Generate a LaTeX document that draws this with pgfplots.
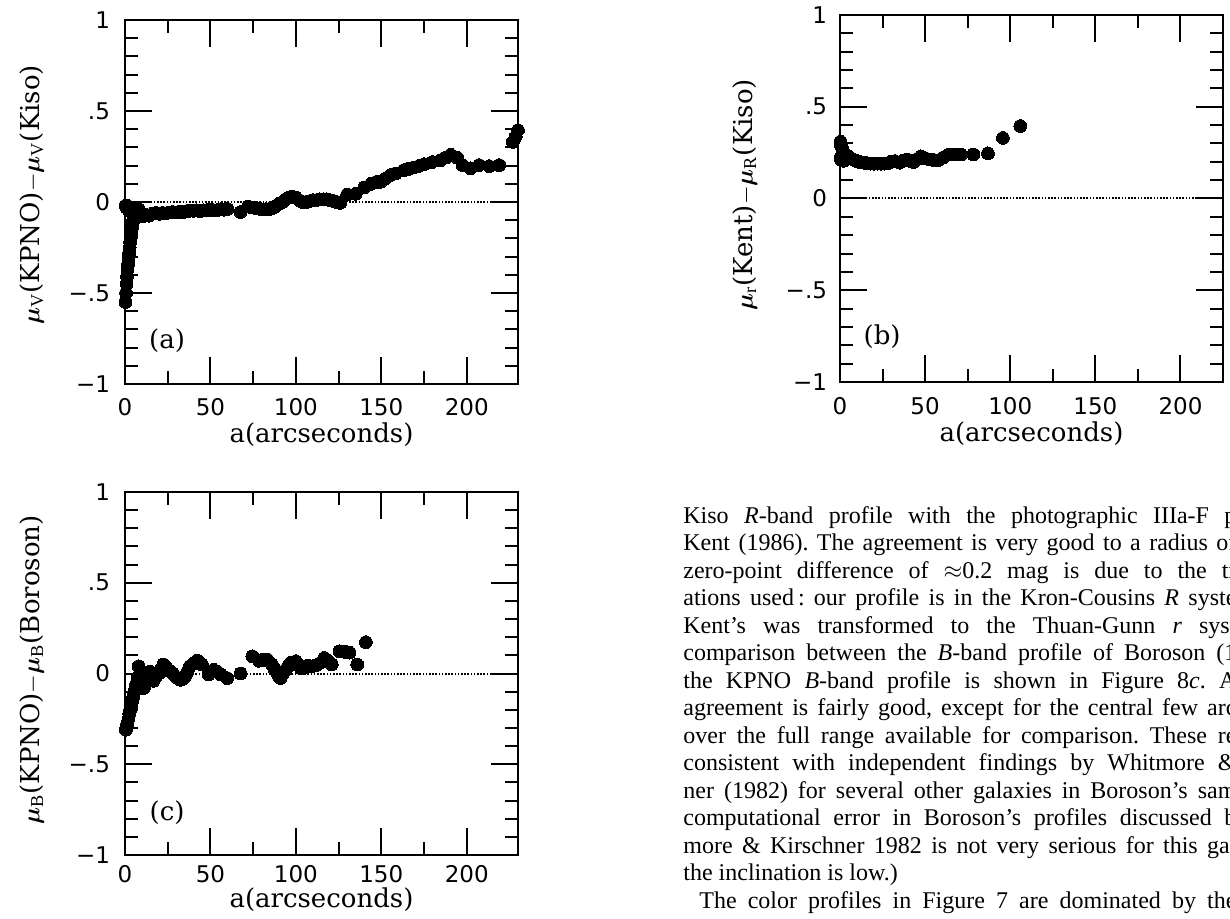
\documentclass[border=0pt]{standalone}
\usepackage{fontspec}
\setmainfont{Liberation Serif}
\newfontfamily\labelfont{DejaVu Serif}
\newfontfamily\tickfont{DejaVu Sans}
\usepackage{bm}
\usepackage{pgfplots}
\pgfplotsset{compat=1.18}

% residual profiles, a in arcsec, difference in mag
\pgfplotstableread{
a v
0.3 -0.55
0.6 -0.50
0.9 -0.45
1.2 -0.41
1.5 -0.37
1.8 -0.34
2.1 -0.31
2.4 -0.28
2.7 -0.25
3.0 -0.22
3.3 -0.19
3.6 -0.17
3.9 -0.15
4.2 -0.13
4.6 -0.11
5.0 -0.09
5.5 -0.08
6.0 -0.07
0.3 -0.02
0.8 -0.03
1.3 -0.02
1.8 -0.04
2.3 -0.03
2.8 -0.05
3.3 -0.03
3.8 -0.05
4.4 -0.04
5.0 -0.05
6.0 -0.03
7.0 -0.05
8.0 -0.04
9.0 -0.06
10 -0.08
12 -0.07
14 -0.075
16 -0.065
18 -0.06
20 -0.065
22 -0.06
24 -0.062
26 -0.058
28 -0.055
30 -0.058
32 -0.052
34 -0.056
36 -0.05
38 -0.048
40 -0.048
42 -0.046
44 -0.05
46 -0.045
48 -0.045
50 -0.042
52 -0.045
54 -0.044
56 -0.04
58 -0.042
60 -0.038
67.6 -0.055
72 -0.025
74 -0.03
76 -0.032
78 -0.036
80 -0.04
82 -0.04
84 -0.04
86 -0.035
88 -0.025
90 -0.01
92 0.0
94 0.015
96 0.025
98 0.03
100 0.025
102 0.01
104 0.0
106 0.0
108 0.005
110 0.01
112 0.01
114 0.015
116 0.015
118 0.015
120 0.01
122 0.005
124 0.0
126 -0.005
130 0.04
135 0.045
140 0.08
144 0.10
147 0.11
149.6 0.111
152.5 0.13
155.4 0.148
158.4 0.157
163.2 0.175
166 0.182
169.1 0.19
172 0.198
175 0.208
179.8 0.22
184.7 0.23
188 0.245
190.6 0.26
194.5 0.243
197.5 0.203
202.3 0.185
207.2 0.203
213.1 0.197
219 0.203
227 0.33
228.7 0.36
230 0.395
}\tabV

\pgfplotstableread{
a v
0.3 0.31
0.6 0.29
1.0 0.28
1.4 0.27
1.8 0.26
2.2 0.25
2.7 0.245
3.2 0.24
3.8 0.235
4.5 0.23
5.3 0.225
6.2 0.22
7.2 0.215
8.3 0.21
9.5 0.205
11 0.20
12.5 0.198
14 0.195
16 0.192
18 0.19
20 0.19
22 0.19
24 0.19
26 0.19
28 0.192
30 0.20
32.3 0.204
35 0.195
37 0.205
39.2 0.213
41 0.205
43.1 0.199
45.5 0.215
47.5 0.23
50 0.22
52.5 0.213
55 0.21
57.8 0.209
61 0.225
64.3 0.24
67.5 0.24
71.2 0.24
78.4 0.24
86.9 0.246
95.7 0.33
105.9 0.395
0.3 0.22
0.6 0.21
1.0 0.215
1.5 0.21
2.0 0.205
3.0 0.21
}\tabR

\pgfplotstableread{
a v
0.5 -0.31
1.0 -0.29
1.5 -0.27
2.0 -0.25
2.5 -0.22
3.0 -0.20
3.5 -0.18
4.0 -0.16
4.5 -0.14
5.0 -0.12
5.5 -0.10
6.0 -0.08
6.5 -0.06
7.0 -0.05
7.5 -0.02
8.0 0.04
9.0 -0.03
10 -0.06
11 -0.08
12 -0.05
12.7 -0.04
13.5 -0.02
14.7 0.01
15.5 -0.02
16.7 -0.04
18 -0.02
19.5 0.0
20.6 0.005
21.5 0.03
22.5 0.05
24 0.035
25.5 0.02
27 0.01
28 0.0
30 -0.02
32.4 -0.035
34 -0.03
35 -0.02
36.5 0.01
38 0.04
40 0.055
42 0.07
43.5 0.065
45 0.05
49 -0.005
52 0.02
54 0.01
56 -0.005
59.8 -0.025
67.6 0.0
74.5 0.095
78.4 0.07
81 0.075
83.3 0.077
86 0.05
87.5 0.025
89 0.004
90 -0.015
91 -0.025
92.5 0.0
94 0.02
95.5 0.04
97 0.06
100 0.068
101.5 0.05
102.9 0.03
105 0.035
107 0.043
109.5 0.04
112 0.047
114.5 0.06
116.7 0.086
119 0.07
121 0.05
125.5 0.123
128.5 0.12
131.4 0.115
135.9 0.05
141 0.173
}\tabB

\pgfplotsset{
  panel/.style={
    scale only axis,
    xmin=0, ymin=-1, ymax=1,
    xtick={0,50,100,150,200}, xticklabels={0,50,100,150,200},
    minor x tick num=1,
    ytick={-1,-0.5,0,0.5,1}, yticklabels={−1,−.5,0,.5,1},
    minor y tick num=4,
    tick align=inside,
    major tick length=13.5pt, minor tick length=6.5pt,
    every tick/.style={black, line width=1pt},
    axis line style={line width=1.2pt},
    ticklabel style={font=\tickfont\fontsize{11.5}{12}\selectfont},
    yticklabel style={xshift=-4pt},
    label style={font=\labelfont\fontsize{13}{15}\selectfont},
    clip mode=global,
  },
  dots/.style={only marks, mark=*, mark size=3.2pt,
    mark options={fill=black, draw=black, line width=0pt}},
  zline/.style={no marks, black, line width=1pt, dash pattern=on 0.8pt off 0.8pt},
}
\tikzset{tag/.style={font=\labelfont\fontsize{13}{15}\selectfont}}

\newcommand{\tline}[2]{\node[anchor=base west, inner sep=0pt] at (341.5pt,{-261.5pt-13.75pt*#1}) {\makebox[276.5pt][s]{#2}};}

\begin{document}
\frenchspacing
\begin{tikzpicture}
\useasboundingbox (0,0) rectangle (615pt,-459.5pt);
\clip (0,0) rectangle (615pt,-459.5pt);

% (a) V band
\begin{axis}[panel, at={(62.5pt,-192pt)}, anchor=south west,
  width=196.5pt, height=182pt, xmax=230,
  xticklabel style={yshift=-3.5pt},
  xlabel={a(arcseconds)},
  xlabel style={at={(axis description cs:0.5,-0.14)}, anchor=center},
  ylabel={$\bm{\mu}_{\mathrm{V}}$(KPNO)$-\bm{\mu}_{\mathrm{V}}$(Kiso)},
  ylabel style={at={(axis description cs:-0.237,0.52)}, anchor=center}]
\addplot[zline] coordinates {(0,0) (230,0)};
\addplot[dots] table[x=a, y=v] {\tabV};
\node[tag] at (axis description cs:0.107,0.118) {(a)};
\end{axis}

% (b) R band
\begin{axis}[panel, at={(420pt,-191pt)}, anchor=south west,
  width=191.5pt, height=183.5pt, xmax=225,
  xticklabel style={yshift=-4pt},
  yticklabel style={xshift=1pt},
  xlabel={a(arcseconds)},
  xlabel style={at={(axis description cs:0.5,-0.14)}, anchor=center},
  ylabel={$\bm{\mu}_{\mathrm{r}}$(Kent)$-\bm{\mu}_{\mathrm{R}}$(Kiso)},
  ylabel style={at={(axis description cs:-0.248,0.51)}, anchor=center}]
\addplot[zline] coordinates {(0,0) (225,0)};
\addplot[dots] table[x=a, y=v] {\tabR};
\node[tag] at (axis description cs:0.11,0.123) {(b)};
\end{axis}

% (c) B band
\begin{axis}[panel, at={(62.5pt,-427.5pt)}, anchor=south west,
  width=196.5pt, height=181.5pt, xmax=230,
  xticklabel style={yshift=-1.5pt},
  xlabel={a(arcseconds)},
  xlabel style={at={(axis description cs:0.5,-0.124)}, anchor=center},
  ylabel={$\bm{\mu}_{\mathrm{B}}$(KPNO)$-\bm{\mu}_{\mathrm{B}}$(Boroson)},
  ylabel style={at={(axis description cs:-0.237,0.51)}, anchor=center}]
\addplot[zline] coordinates {(0,0) (230,0)};
\addplot[dots] table[x=a, y=v] {\tabB};
\node[tag] at (axis description cs:0.107,0.118) {(c)};
\end{axis}

% running text of the page
\begin{scope}[font=\fontsize{12}{13.75}\selectfont]
\tline{0}{Kiso \textit{R}-band profile with the photographic IIIa-F p}
\tline{1}{Kent (1986). The agreement is very good to a radius of}
\tline{2}{zero-point difference of $\approx$0.2 mag is due to the tr}
\tline{3}{ations used\,: our profile is in the Kron-Cousins \textit{R} syste}
\tline{4}{Kent's was transformed to the Thuan-Gunn \textit{r} syst}
\tline{5}{comparison between the \textit{B}-band profile of Boroson (1}
\tline{6}{the KPNO \textit{B}-band profile is shown in Figure 8\textit{c}. A}
\tline{7}{agreement is fairly good, except for the central few arc}
\tline{8}{over the full range available for comparison. These re}
\tline{9}{consistent with independent findings by Whitmore \&}
\tline{10}{ner (1982) for several other galaxies in Boroson's sam}
\tline{11}{computational error in Boroson's profiles discussed b}
\tline{12}{more \& Kirschner 1982 is not very serious for this gal}
\node[anchor=base west, inner sep=0pt] at (341.5pt,{-261.5pt-13.75pt*13}) {the inclination is low.)};
\tline{14}{\hspace*{8pt}The color profiles in Figure 7 are dominated by the}
\end{scope}
\end{tikzpicture}
\end{document}
